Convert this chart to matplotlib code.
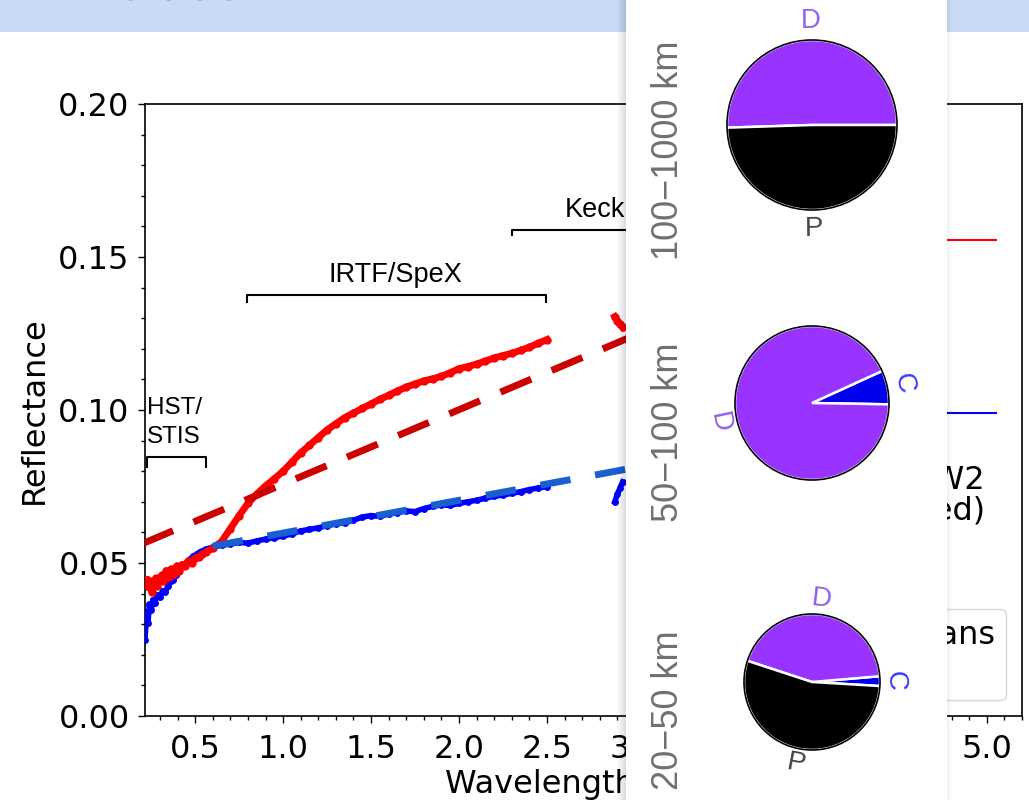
import numpy as np
import matplotlib
matplotlib.use("Agg")
import matplotlib.pyplot as plt
from matplotlib.patches import Rectangle, Circle
from matplotlib.lines import Line2D
from matplotlib.ticker import MultipleLocator, FormatStrFormatter

# spectra (wavelength in micron, reflectance)
red_x = [0.225, 0.235, 0.245, 0.255, 0.265, 0.275, 0.285, 0.295, 0.31, 0.32,
         0.335, 0.35, 0.365, 0.38, 0.395, 0.41, 0.425, 0.44, 0.46, 0.48,
         0.50, 0.52, 0.54, 0.56, 0.60, 0.65, 0.70, 0.75, 0.80, 0.85,
         0.90, 0.95, 1.00, 1.05, 1.10, 1.15, 1.20, 1.25, 1.30, 1.35,
         1.40, 1.45, 1.50, 1.55, 1.60, 1.65, 1.70, 1.75, 1.80, 1.85,
         1.90, 1.95, 2.00, 2.05, 2.10, 2.15, 2.20, 2.25, 2.30, 2.35,
         2.40, 2.45, 2.50]
red_y = [0.0445, 0.0420, 0.0440, 0.0405, 0.0435, 0.0450, 0.0425, 0.0445, 0.0460, 0.0440,
         0.0475, 0.0455, 0.0480, 0.0465, 0.0490, 0.0475, 0.0495, 0.0490, 0.0505, 0.0500,
         0.0515, 0.0520, 0.0528, 0.0535, 0.0548, 0.0570, 0.0612, 0.0655, 0.0695, 0.0725,
         0.0752, 0.0775, 0.0800, 0.0830, 0.0860, 0.0885, 0.0910, 0.0935, 0.0955, 0.0975,
         0.0990, 0.1005, 0.1020, 0.1035, 0.1048, 0.1062, 0.1075, 0.1085, 0.1095, 0.1102,
         0.1110, 0.1122, 0.1135, 0.1142, 0.1150, 0.1160, 0.1170, 0.1178, 0.1185, 0.1195,
         0.1205, 0.1218, 0.1230]

blue_x = [0.215, 0.225, 0.232, 0.24, 0.25, 0.26, 0.27, 0.285, 0.30, 0.315,
          0.33, 0.345, 0.36, 0.375, 0.39, 0.41, 0.43, 0.45, 0.47, 0.49,
          0.51, 0.53, 0.56, 0.60, 0.65, 0.70, 0.75, 0.80, 0.85, 0.90,
          0.95, 1.00, 1.05, 1.10, 1.15, 1.20, 1.25, 1.30, 1.35, 1.40,
          1.45, 1.50, 1.55, 1.60, 1.65, 1.70, 1.75, 1.80, 1.85, 1.90,
          1.95, 2.00, 2.05, 2.10, 2.15, 2.20, 2.25, 2.30, 2.35, 2.40,
          2.45, 2.50]
blue_y = [0.0250, 0.0340, 0.0305, 0.0365, 0.0345, 0.0380, 0.0370, 0.0395, 0.0390, 0.0410,
          0.0405, 0.0425, 0.0440, 0.0445, 0.0460, 0.0475, 0.0490, 0.0500, 0.0512, 0.0522,
          0.0530, 0.0537, 0.0545, 0.0552, 0.0558, 0.0562, 0.0567, 0.0565, 0.0572, 0.0578,
          0.0583, 0.0588, 0.0595, 0.0605, 0.0610, 0.0615, 0.0622, 0.0628, 0.0632, 0.0640,
          0.0650, 0.0655, 0.0652, 0.0660, 0.0665, 0.0670, 0.0668, 0.0678, 0.0685, 0.0690,
          0.0688, 0.0695, 0.0700, 0.0705, 0.0712, 0.0718, 0.0722, 0.0728, 0.0733, 0.0740,
          0.0745, 0.0750]

keck_x = [2.885, 2.90, 2.915, 2.93]
keck_red_y = [0.1305, 0.1290, 0.1280, 0.1270]
keck_blue_y = [0.0700, 0.0725, 0.0745, 0.0765]

# linear trends
fit_red_x = [0.20, 4.77]
fit_red_y = [0.0563, 0.1675]
fit_blue_x = [0.60, 4.60]
fit_blue_y = [0.0555, 0.0983]

# WISE W2 points
w2_x = [4.60]
w2_xerr = [0.46]
w2_red_y = [0.1556]
w2_blue_y = [0.0990]

# instrument brackets: (x0, x1, y_top, y_end)
brackets = {
    "HST/STIS": (0.228, 0.562, 0.0847, 0.0814),
    "IRTF/SpeX": (0.794, 2.493, 0.1376, 0.1353),
    "Keck": (2.30, 4.10, 0.1588, 0.1572),
}

# taxonomy pies per size range
size_ranges = ["100\u22121000 km", "50\u2212100 km", "20\u221250 km"]
pie_labels = [["D", "P"], ["C", "D"], ["C", "D", "P"]]
pie_fracs = [[50.5, 49.5], [7.1, 92.9], [2.3, 43.6, 54.1]]
pie_start = [0, -1, -3.4]

W, H = 1029, 800
fig = plt.figure(figsize=(W / 100, H / 100), dpi=100)


def fbox(x0, y0, x1, y1):
    return [x0 / W, 1 - y1 / H, (x1 - x0) / W, (y1 - y0) / H]


# slide header band, title mostly above the crop
fig.add_artist(Rectangle((0, 1 - 32 / H), 1, 32 / H, transform=fig.transFigure,
                         facecolor="#c9daf6", edgecolor="none", zorder=1))
fig.text(0.004, 1 + 1 / H, "Surfaces", fontsize=40, va="baseline", color="#111111", zorder=2)

ax = fig.add_axes(fbox(145, 104, 1022, 716))

ax.plot(blue_x, blue_y, color="#0000ff", lw=4, marker="o", ms=5, mew=0, zorder=3)
ax.plot(keck_x, keck_blue_y, color="#0000ff", lw=4, marker="o", ms=5, mew=0, zorder=3)
ax.plot(red_x, red_y, color="#ff0000", lw=5, marker="o", ms=6, mew=0, zorder=4)
ax.plot(keck_x, keck_red_y, color="#ff0000", lw=5, marker="o", ms=6, mew=0, zorder=4)

ax.plot(fit_red_x, fit_red_y, color="#cc0000", lw=5, dashes=(4.8, 3.2), zorder=5)
ax.plot(fit_blue_x, fit_blue_y, color="#1a5fd0", lw=5, dashes=(4.4, 3.6), zorder=5)

ax.errorbar(w2_x, w2_red_y, xerr=w2_xerr, fmt="none", ecolor="#ff0000", elinewidth=1.5, capsize=0)
ax.errorbar(w2_x, w2_blue_y, xerr=w2_xerr, fmt="none", ecolor="#0000ff", elinewidth=1.5, capsize=0)

for label, (x0, x1, yt, ye) in brackets.items():
    ax.plot([x0, x0, x1, x1], [ye, yt, yt, ye], color="black", lw=1.5, zorder=6)

ax.text(0.228, 0.0893, "HST/\nSTIS", fontsize=17.5, family="Liberation Sans",
        ha="left", va="baseline", linespacing=1.4)
ax.text(1.64, 0.1419, "IRTF/SpeX", fontsize=19.5, family="Liberation Sans",
        ha="center", va="baseline")
ax.text(2.60, 0.1632, "Keck", fontsize=19.5, family="Liberation Sans",
        ha="left", va="baseline")
ax.text(4.99, 0.0641, "WISE W2\n(corrected)", fontsize=23, ha="right",
        va="baseline", multialignment="right", linespacing=1.0)

ax.set_xlim(0.215, 5.2)
ax.set_ylim(0, 0.2)
ax.xaxis.set_major_locator(MultipleLocator(0.5))
ax.xaxis.set_minor_locator(MultipleLocator(0.1))
ax.yaxis.set_major_locator(MultipleLocator(0.05))
ax.yaxis.set_minor_locator(MultipleLocator(0.01))
ax.xaxis.set_major_formatter(FormatStrFormatter("%.1f"))
ax.yaxis.set_major_formatter(FormatStrFormatter("%.2f"))
ax.tick_params(which="both", direction="out", width=1, labelsize=23)
ax.tick_params(which="major", length=5)
ax.tick_params(which="minor", length=3)
ax.tick_params(axis="x", pad=8)
ax.tick_params(axis="y", pad=6)
for sp in ax.spines.values():
    sp.set_linewidth(1.2)
ax.set_xlabel("Wavelength (\u03bcm)", fontsize=23, labelpad=3)
ax.set_ylabel("Reflectance", fontsize=23, labelpad=6)

handles = [Line2D([], [], color="#ff0000", lw=4), Line2D([], [], color="#cc0000", lw=4, ls="--")]
ax.legend(handles, ["Red Trojans", "Fit"], loc="lower right", fontsize=23,
          labelspacing=0.2, borderpad=0.35)

# overlaid white panel with soft shadow
px0, px1 = 626, 947
fig.add_artist(Rectangle((px0 / W, 0), (px1 - px0) / W, 1, transform=fig.transFigure,
                         facecolor="white", edgecolor="none", zorder=5))
for i in range(9):
    fig.add_artist(Rectangle(((px0 - 9 + i) / W, 0), 1 / W, 1, transform=fig.transFigure,
                             facecolor="black", edgecolor="none", alpha=0.015 * (i + 1), zorder=5))
for i in range(4):
    fig.add_artist(Rectangle(((px1 + i) / W, 0), 1 / W, 1, transform=fig.transFigure,
                             facecolor="black", edgecolor="none", alpha=0.05 - 0.012 * i, zorder=5))

pie_colors = {"D": "#9933ff", "C": "#0000ee", "P": "#000000"}
label_colors = {"D": "#9060f0", "C": "#3a3aff", "P": "#444444"}
pie_geom = [(812, 125, 85), (812, 403, 77), (812, 682, 68)]
side_y = [150, 432, 710]

for k in range(3):
    cx, cy, r = pie_geom[k]
    pad = 1.5
    pax = fig.add_axes(fbox(cx - pad * r, cy - pad * r, cx + pad * r, cy + pad * r))
    pax.set_zorder(10)
    wedges, texts = pax.pie(pie_fracs[k], labels=pie_labels[k],
                            colors=[pie_colors[l] for l in pie_labels[k]],
                            startangle=pie_start[k], labeldistance=1.22,
                            wedgeprops=dict(edgecolor="white", linewidth=1.8),
                            textprops=dict(fontsize=20, family=["Liberation Sans", "DejaVu Sans"]))
    pax.add_patch(Circle((0, 0), 1, fill=False, edgecolor="black", lw=1.2, zorder=5))
    for t, lab in zip(texts, pie_labels[k]):
        x, y = t.get_position()
        rot = np.degrees(np.arctan2(y, x)) - 90
        while rot > 90:
            rot -= 180
        while rot <= -90:
            rot += 180
        t.set_rotation(rot)
        t.set_rotation_mode("anchor")
        t.set_ha("center")
        t.set_va("center")
        t.set_color(label_colors[lab])
    pax.set_xlim(-pad, pad)
    pax.set_ylim(-pad, pad)
    pax.axis("off")
    fig.text(668 / W, 1 - side_y[k] / H, size_ranges[k], rotation=90, ha="center", va="center",
             fontsize=26, color="#707070", family=["Liberation Sans", "DejaVu Sans"],
             zorder=12)

fig.savefig("out.png", dpi=100)
